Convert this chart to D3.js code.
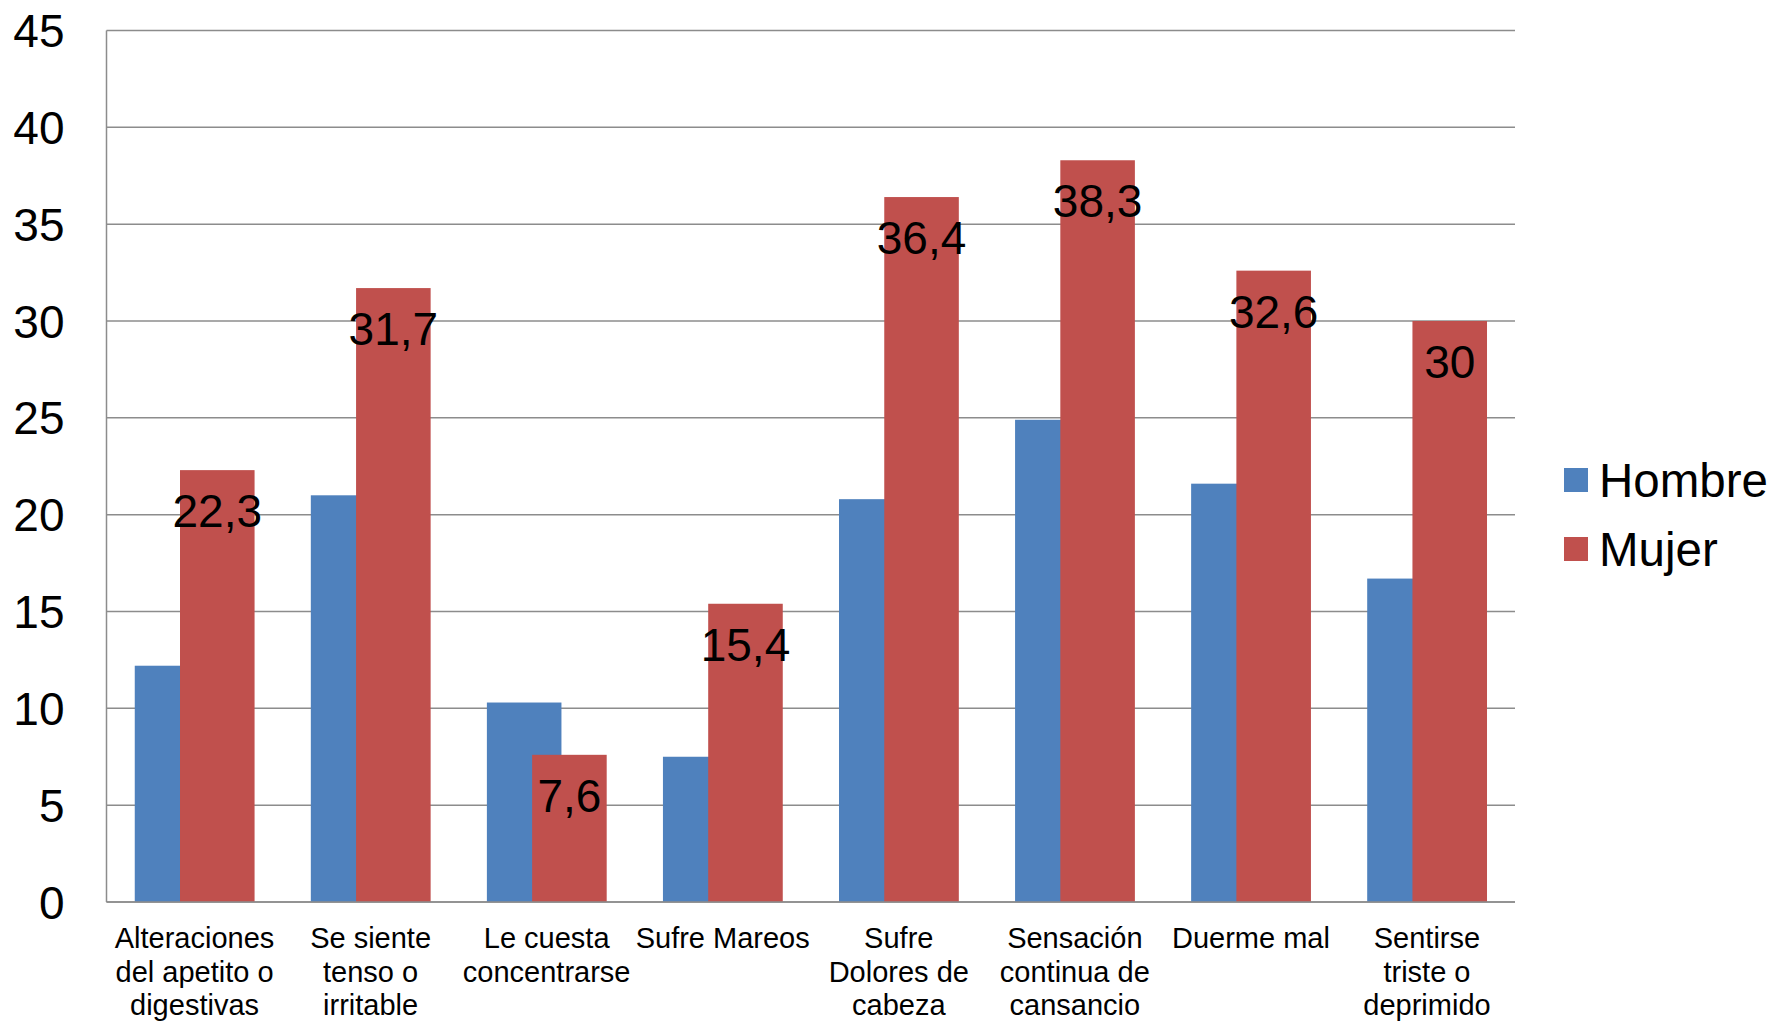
<!DOCTYPE html>
<html>
<head>
<meta charset="utf-8">
<script src="https://cdn.jsdelivr.net/npm/d3@7"></script>
<style>
  html, body { margin: 0; padding: 0; background: #ffffff; }
  svg { display: block; font-family: "Liberation Sans", Arial, sans-serif; }
</style>
</head>
<body>
<svg id="chart" width="1773" height="1021"></svg>
<script>
// Síntomas por sexo (%)
const categories = [
  "Alteraciones del apetito o digestivas",
  "Se siente tenso o irritable",
  "Le cuesta concentrarse",
  "Sufre Mareos",
  "Sufre Dolores de cabeza",
  "Sensación continua de cansancio",
  "Duerme mal",
  "Sentirse triste o deprimido"
];
// Category labels as they wrap under the axis
const categoryLines = [
  ["Alteraciones", "del apetito o", "digestivas"],
  ["Se siente", "tenso o", "irritable"],
  ["Le cuesta", "concentrarse"],
  ["Sufre Mareos"],
  ["Sufre", "Dolores de", "cabeza"],
  ["Sensación", "continua de", "cansancio"],
  ["Duerme mal"],
  ["Sentirse", "triste o", "deprimido"]
];
const seriesNames = ["Hombre", "Mujer"];
const hombre = [12.2, 21.0, 10.3, 7.5, 20.8, 24.9, 21.6, 16.7];
const mujer = [22.3, 31.7, 7.6, 15.4, 36.4, 38.3, 32.6, 30];
const yTicks = [0, 5, 10, 15, 20, 25, 30, 35, 40, 45];

const colors = { Hombre: "#4F81BD", Mujer: "#C0504D" };
const gridColor = "#8c8c8c";

const svg = d3.select("#chart");
const plot = { left: 106.5, right: 1515, top: 30.5, bottom: 902 };

const x = d3.scaleBand()
  .domain(categories)
  .range([plot.left, plot.right])
  .paddingInner(0)
  .paddingOuter(0);

const y = d3.scaleLinear()
  .domain([0, 45])
  .range([plot.bottom, plot.top]);

const step = x.step();
const barW = step * 0.4235;
const offHombre = step * 0.1605;
const offMujer = step * 0.4175;

// Horizontal gridlines
svg.append("g")
  .selectAll("line")
  .data(yTicks)
  .join("line")
  .attr("x1", plot.left)
  .attr("x2", plot.right)
  .attr("y1", d => y(d))
  .attr("y2", d => y(d))
  .attr("stroke", gridColor)
  .attr("stroke-width", 1.5);

// Y axis line
svg.append("line")
  .attr("x1", plot.left).attr("x2", plot.left)
  .attr("y1", plot.top).attr("y2", plot.bottom)
  .attr("stroke", gridColor)
  .attr("stroke-width", 1.5);

// Y tick labels
svg.append("g")
  .selectAll("text")
  .data(yTicks)
  .join("text")
  .attr("x", 64.5)
  .attr("y", d => y(d) + 16.5)
  .attr("text-anchor", "end")
  .attr("font-size", 46)
  .attr("fill", "#000")
  .text(d => d);

// Bars: Hombre first, Mujer drawn on top with overlap
const bars = svg.append("g");
bars.selectAll("rect.hombre")
  .data(categories.map((c, i) => ({ c, v: hombre[i] })))
  .join("rect")
  .attr("class", "hombre")
  .attr("x", d => x(d.c) + offHombre)
  .attr("y", d => y(d.v))
  .attr("width", barW)
  .attr("height", d => y(0) - y(d.v))
  .attr("fill", colors.Hombre);

bars.selectAll("rect.mujer")
  .data(categories.map((c, i) => ({ c, v: mujer[i] })))
  .join("rect")
  .attr("class", "mujer")
  .attr("x", d => x(d.c) + offMujer)
  .attr("y", d => y(d.v))
  .attr("width", barW)
  .attr("height", d => y(0) - y(d.v))
  .attr("fill", colors.Mujer);

// Baseline redrawn over bars
svg.append("line")
  .attr("x1", plot.left).attr("x2", plot.right)
  .attr("y1", y(0)).attr("y2", y(0))
  .attr("stroke", gridColor)
  .attr("stroke-width", 1.5);

// Value labels on the Mujer bars
const fmt = v => String(v).replace(".", ",");
svg.append("g")
  .selectAll("text")
  .data(categories.map((c, i) => ({ c, v: mujer[i] })))
  .join("text")
  .attr("x", d => x(d.c) + offMujer + barW / 2)
  .attr("y", d => y(d.v) + 57)
  .attr("text-anchor", "middle")
  .attr("font-size", 46)
  .attr("fill", "#000")
  .text(d => fmt(d.v));

// Category labels
const catG = svg.append("g");
categories.forEach((c, i) => {
  const t = catG.append("text")
    .attr("text-anchor", "middle")
    .attr("font-size", 29)
    .attr("fill", "#000");
  categoryLines[i].forEach((line, j) => {
    t.append("tspan")
      .attr("x", x(c) + step / 2)
      .attr("y", 948 + j * 33.5)
      .text(line);
  });
});

// Legend
const legend = svg.append("g");
seriesNames.forEach((s, i) => {
  const cy = 480 + i * 69;
  legend.append("rect")
    .attr("x", 1564)
    .attr("y", cy - 12)
    .attr("width", 24)
    .attr("height", 24)
    .attr("fill", colors[s]);
  legend.append("text")
    .attr("x", 1599)
    .attr("y", cy + 17)
    .attr("font-size", 47.5)
    .attr("fill", "#000")
    .text(s);
});
</script>
</body>
</html>
